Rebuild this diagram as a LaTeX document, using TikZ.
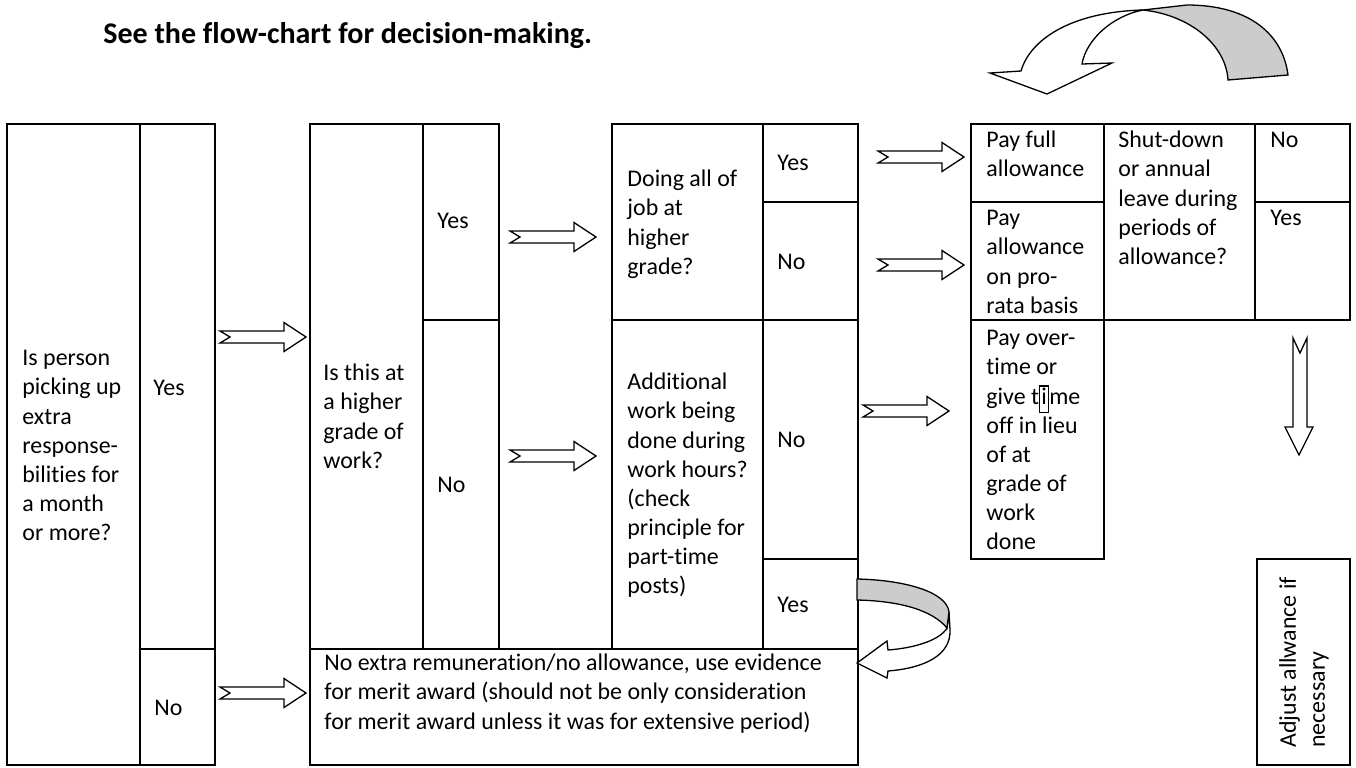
\documentclass[tikz,border=0pt]{standalone}
\usepackage{fontspec}
\setmainfont{Carlito}[Ligatures=NoCommon]
\newcommand{\cellbox}[5]{\node[cell, minimum width={(#4-#2)*0.46pt}, minimum height={(#5-#3)*0.46pt}] (#1) at ({(#2+#4)/2},{(#3+#5)/2}) {};}
\begin{document}
\begin{tikzpicture}[x=0.46pt,y=-0.46pt,
  cell/.style={draw, line width=0.9pt, inner sep=0pt, outer sep=0pt},
  txt/.style={anchor=north west, inner sep=0pt, align=left, font=\fontsize{11}{13.4}\selectfont},
  arrowline/.style={draw=black, fill=white, line width=0.6pt, line join=miter},
  backside/.style={draw=black, fill=gray!40, line width=0.6pt},
  rarrow/.pic={\path[arrowline] (0,-6) -- (10,0) -- (0,6) -- (64,6) -- (64,14.5) -- (86,0) -- (64,-14.5) -- (64,-6) -- cycle;}
]
\useasboundingbox (0,0) rectangle (1356,767);

% title
\node[anchor=base west, inner sep=0pt, font=\fontsize{13.8}{16}\selectfont\bfseries] (title) at (103,43) {See the flow-chart for decision-making.};

% table 1
\cellbox{q1}{7}{124}{140}{765}
\cellbox{q1yes}{140}{124}{215}{649}
\cellbox{q1no}{140}{649}{215}{765}
% table 2
\cellbox{q2}{310}{124}{423}{649}
\cellbox{q2yes}{423}{124}{499}{320}
\cellbox{q2no}{423}{320}{499}{649}
\cellbox{noextra}{310}{649}{858}{765}
% table 3
\cellbox{q3}{612}{124}{763}{320}
\cellbox{q3yes}{763}{124}{858}{202}
\cellbox{q3no}{763}{202}{858}{320}
\cellbox{q4}{612}{320}{763}{649}
\cellbox{q4no}{763}{320}{858}{559}
\cellbox{q4yes}{763}{559}{858}{649}
% table 4
\cellbox{payfull}{971}{124}{1104}{202}
\cellbox{payprorata}{971}{202}{1104}{320}
\cellbox{q5}{1104}{124}{1255}{320}
\cellbox{q5no}{1255}{124}{1350}{202}
\cellbox{q5yes}{1255}{202}{1350}{320}
\cellbox{overtime}{971}{320}{1104}{559}
\cellbox{adjust}{1257}{559}{1350}{765}

% texts
\node[txt] (t1) at (22,345) {\strut Is person\\picking up\\extra\\response-\\bilities for\\a month\\or more?};
\node[txt] (t1y) at (153,375) {\strut Yes};
\node[txt] (t1n) at (154,695) {\strut No};
\node[txt] (t2) at (323,360) {\strut Is this at\\a higher\\grade of\\work?};
\node[txt] (t2y) at (437,208) {\strut Yes};
\node[txt] (t2n) at (437,472) {\strut No};
\node[txt] (t3) at (627,166) {\strut Doing all of\\job at\\higher\\grade?};
\node[txt] (t3y) at (777,150) {\strut Yes};
\node[txt] (t3n) at (777,249) {\strut No};
\node[txt] (t4) at (627,369) {\strut Additional\\work being\\done during\\work hours?\\(check\\principle for\\part-time\\posts)};
\node[txt] (t4n) at (777,427) {\strut No};
\node[txt] (t4y) at (777,592) {\strut Yes};
\node[txt] (tne) at (324,650) {\strut No extra remuneration/no allowance, use evidence\\for merit award (should not be only consideration\\for merit award unless it was for extensive period)};
\node[txt] (tpf) at (986,127) {\strut Pay full\\allowance};
\node[txt] (tpp) at (986,205) {\strut Pay\\allowance\\on pro-\\rata basis};
\node[txt] (t5) at (1118,127) {\strut Shut-down\\or annual\\leave during\\periods of\\allowance?};
\node[txt] (t5n) at (1270,127) {\strut No};
\node[txt] (t5y) at (1270,205) {\strut Yes};
\node[txt] (tot) at (986,325) {\strut Pay over-\\time or\\give t{\setlength{\fboxsep}{0.5pt}\setlength{\fboxrule}{0.6pt}\fbox{\rule[-3pt]{0pt}{10pt}i}}me\\off in lieu\\of at\\grade of\\work\\done};
\node[anchor=west, inner sep=0pt, rotate=90, align=left, font=\fontsize{11}{13.4}\selectfont] (tadj) at (1304,748) {Adjust allwance if\\necessary};

% straight block arrows
\pic (a1) at (220,337) {rarrow};
\pic (a2) at (220,693) {rarrow};
\pic (a3) at (510,237) {rarrow};
\pic (a4) at (510,456) {rarrow};
\pic (a5) at (878,157) {rarrow};
\pic (a6) at (878,265) {rarrow};
\pic (a7) at (863,411) {rarrow};

% down arrow
\path[arrowline] (1293,338) -- (1300,353) -- (1307,338) -- (1307,427) -- (1313,427) -- (1299,455) -- (1285,427) -- (1293,427) -- cycle;

% top curved arrow
\path[arrowline] (1143,10) .. controls (1070,12) and (1030,40) .. (1021,71) -- (990,73) -- (1047,94) -- (1112,63) -- (1082,64) .. controls (1086,40) and (1112,16) .. (1143,10) -- cycle;
\path[backside] (1143,10) -- (1187,5) .. controls (1250,5) and (1283,35) .. (1288,75) -- (1228,80) .. controls (1226,45) and (1190,15) .. (1143,10) -- cycle;

% bottom curved arrow
\path[arrowline] (949,612) -- (950,630) .. controls (951,655) and (925,668) .. (888,671) -- (887,678) -- (857,663) -- (887,641) -- (888,650) .. controls (915,648) and (940,640) .. (947,628) -- cycle;
\path[backside] (857,579) .. controls (905,580) and (947,592) .. (949,612) -- (947,628) .. controls (932,610) and (900,601) .. (857,600) -- cycle;
\end{tikzpicture}
\end{document}
